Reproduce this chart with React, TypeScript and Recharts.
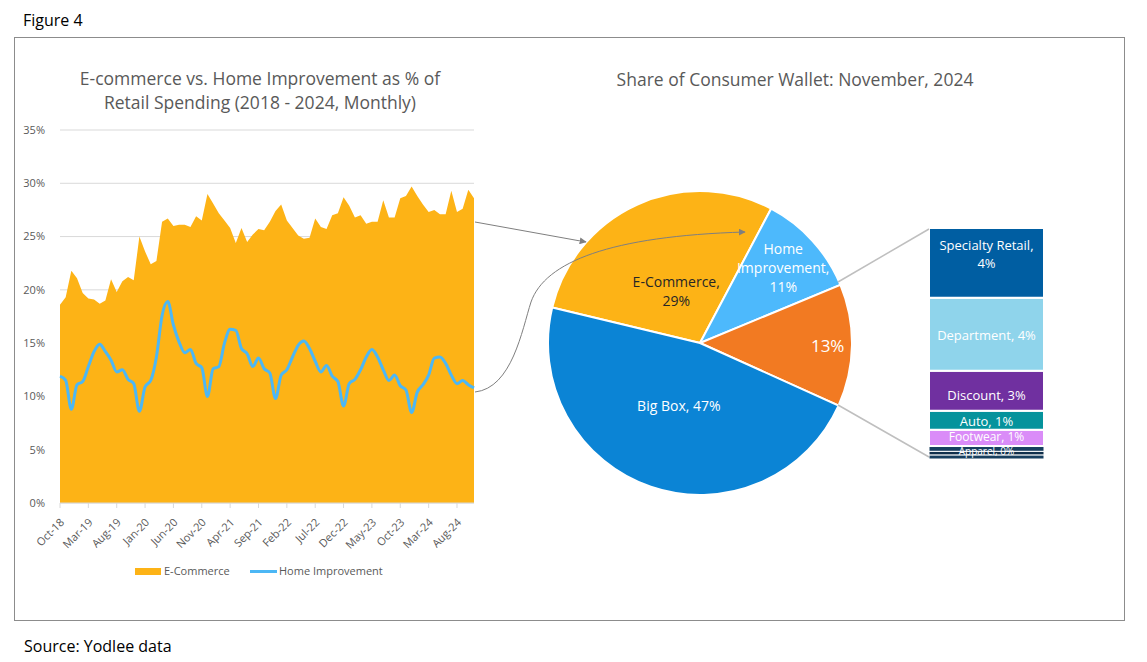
import React from "react";
import {
  ComposedChart,
  Area,
  Line,
  XAxis,
  YAxis,
  CartesianGrid,
  PieChart,
  Pie,
  Cell,
  BarChart,
  Bar,
  LabelList,
} from "recharts";

// ---------- data ----------
const months = [
  "Oct-18", "Nov-18", "Dec-18", "Jan-19", "Feb-19", "Mar-19", "Apr-19", "May-19", "Jun-19", "Jul-19",
  "Aug-19", "Sep-19", "Oct-19", "Nov-19", "Dec-19", "Jan-20", "Feb-20", "Mar-20", "Apr-20", "May-20",
  "Jun-20", "Jul-20", "Aug-20", "Sep-20", "Oct-20", "Nov-20", "Dec-20", "Jan-21", "Feb-21", "Mar-21",
  "Apr-21", "May-21", "Jun-21", "Jul-21", "Aug-21", "Sep-21", "Oct-21", "Nov-21", "Dec-21", "Jan-22",
  "Feb-22", "Mar-22", "Apr-22", "May-22", "Jun-22", "Jul-22", "Aug-22", "Sep-22", "Oct-22", "Nov-22",
  "Dec-22", "Jan-23", "Feb-23", "Mar-23", "Apr-23", "May-23", "Jun-23", "Jul-23", "Aug-23", "Sep-23",
  "Oct-23", "Nov-23", "Dec-23", "Jan-24", "Feb-24", "Mar-24", "Apr-24", "May-24", "Jun-24", "Jul-24",
  "Aug-24", "Sep-24", "Oct-24", "Nov-24",
];

const eCommerce = [
  18.6, 19.3, 21.8, 21.1, 19.7, 19.2, 19.1, 18.7, 19.0, 21.0,
  19.8, 20.8, 21.2, 20.9, 25.0, 23.6, 22.4, 22.7, 26.4, 26.7,
  26.0, 26.1, 26.1, 25.9, 26.9, 26.5, 29.0, 28.1, 27.2, 26.5,
  25.8, 24.4, 25.8, 24.5, 25.2, 25.7, 25.6, 26.4, 27.4, 28.0,
  26.5, 25.8, 25.1, 24.8, 24.9, 26.7, 25.9, 25.7, 27.0, 27.2,
  28.7, 27.9, 26.8, 27.0, 26.2, 26.4, 26.4, 28.4, 26.8, 26.8,
  28.6, 28.8, 29.7, 28.8, 28.0, 27.3, 27.5, 27.1, 27.1, 29.3,
  27.3, 27.6, 29.4, 28.6,
];

const homeImprovement = [
  11.9, 11.5, 8.8, 11.1, 11.4, 12.8, 14.2, 14.9, 14.2, 13.4,
  12.3, 12.5, 11.6, 11.2, 8.6, 10.9, 11.5, 13.7, 17.6, 18.9,
  16.7, 15.1, 14.1, 14.4, 13.1, 12.7, 10.0, 12.6, 12.8, 15.0,
  16.3, 16.2, 14.5, 14.0, 12.8, 13.6, 12.6, 12.2, 9.8, 12.0,
  12.5, 13.7, 14.8, 15.2, 14.5, 13.3, 12.3, 12.9, 11.9, 11.4,
  9.1, 11.2, 11.6, 12.5, 13.7, 14.4, 13.7, 12.5, 11.5, 12.0,
  11.0, 10.6, 8.5, 10.4, 11.1, 12.0, 13.6, 13.7, 13.1, 12.0,
  11.2, 11.5, 11.1, 10.8,
];

const yTicks = [0, 5, 10, 15, 20, 25, 30, 35];

const pieNames = ["E-Commerce", "Home Improvement", "Other", "Big Box"];
const pieValues = [29, 11, 13, 47];

const barNames = ["Specialty Retail", "Department", "Discount", "Auto", "Footwear", "Apparel", "Minor A", "Minor B"];
const barValues = [3.9, 4.07, 2.23, 1.07, 0.9, 0.3, 0.2, 0.23];
const barLabels = ["4%", "4%", "3%", "1%", "1%", "0%", "", ""];

// ---------- styles ----------
const FONT = "'Open Sans', 'Noto Sans', sans-serif";
const GREY_TEXT = "#595959";
const AREA_COLOR = "#FDB316";
const LINE_COLOR = "#4CB7F5";
const pieColors = ["#FDB316", "#4DB9FC", "#F27A22", "#0B84D5"];
const pieLabelColors = ["#262626", "#FFFFFF", "#FFFFFF", "#FFFFFF"];
const pieLabelRadius = [0.38, 0.74, 0.84, 0.43];
const barColors = ["#005EA2", "#8FD4EB", "#7030A0", "#05939C", "#DA8CF8", "#173F5F", "#10304C", "#173F5F"];
const barLabelSize = [13, 13, 13, 13, 12, 10, 10, 10];
const barLabelShift = [0, 1, 4, 1, -1, 2, 0, 0];

const lineData = months.map((m, i) => ({
  month: m,
  ecom: eCommerce[i],
  home: homeImprovement[i],
}));

const pieData = pieNames.map((n, i) => ({ name: n, value: pieValues[i] }));

const barRow: Record<string, number | string> = { cat: "Other" };
barNames.forEach((n, i) => {
  barRow[n] = barValues[i];
});
const barTotal = barValues.reduce((a, b) => a + b, 0);

const XTick = (props: any) => {
  const { x, y, payload } = props;
  return (
    <g transform={`translate(${x},${y})`}>
      <text
        transform="translate(5,13) rotate(-45)"
        textAnchor="end"
        fill={GREY_TEXT}
        fontSize={11}
        fontFamily={FONT}
      >
        {payload.value}
      </text>
    </g>
  );
};

const RAD = Math.PI / 180;

const renderPieLabel = (props: any) => {
  const { cx, cy, midAngle, outerRadius, index } = props;
  const r = outerRadius * pieLabelRadius[index];
  const x = cx + r * Math.cos(-midAngle * RAD);
  const y = cy + r * Math.sin(-midAngle * RAD);
  const name = pieNames[index];
  const val = `${pieValues[index]}%`;
  let lines: string[];
  let size = 14;
  if (index === 0) lines = [`${name},`, val];
  else if (index === 1) lines = ["Home", "Improvement,", val];
  else if (index === 2) {
    lines = [val];
    size = 17;
  } else lines = [`${name}, ${val}`];
  const lh = 19;
  const start = y - ((lines.length - 1) * lh) / 2;
  return (
    <text
      textAnchor="middle"
      dominantBaseline="central"
      fill={pieLabelColors[index]}
      fontSize={size}
      fontFamily={FONT}
    >
      {lines.map((l, k) => (
        <tspan key={k} x={x} y={start + k * lh}>
          {l}
        </tspan>
      ))}
    </text>
  );
};

const makeBarLabel = (idx: number) => (props: any) => {
  const { x, y, width, height } = props;
  if (!barLabels[idx]) return null;
  const cxp = Number(x) + Number(width) / 2;
  const cyp = Number(y) + Number(height) / 2;
  if (idx === 0) {
    return (
      <text textAnchor="middle" dominantBaseline="central" fill="#fff" fontSize={13} fontFamily={FONT}>
        <tspan x={cxp} y={cyp - 18}>{`${barNames[idx]},`}</tspan>
        <tspan x={cxp} y={cyp}>{barLabels[idx]}</tspan>
      </text>
    );
  }
  return (
    <text
      x={cxp}
      y={cyp + barLabelShift[idx]}
      textAnchor="middle"
      dominantBaseline="central"
      fill="#fff"
      fontSize={barLabelSize[idx]}
      fontFamily={FONT}
    >
      {`${barNames[idx]}, ${barLabels[idx]}`}
    </text>
  );
};

export default function App() {
  const stackOrder = barNames.map((_, i) => i).reverse();
  return (
    <div
      style={{
        position: "absolute",
        left: 0,
        top: 0,
        width: 1147,
        height: 662,
        background: "#fff",
        fontFamily: FONT,
        overflow: "hidden",
      }}
    >
      <div style={{ position: "absolute", left: 23, top: 9, fontSize: 16, color: "#000" }}>Figure 4</div>
      <div
        style={{
          position: "absolute",
          left: 14,
          top: 37,
          width: 1111,
          height: 584,
          border: "1px solid #8C8C8C",
          boxSizing: "border-box",
        }}
      />
      <div style={{ position: "absolute", left: 24, top: 635, fontSize: 16, color: "#000" }}>
        Source: Yodlee data
      </div>

      {/* left title */}
      <div
        style={{
          position: "absolute",
          left: 60,
          width: 400,
          top: 66,
          textAlign: "center",
          fontSize: 17.5,
          lineHeight: "24px",
          color: GREY_TEXT,
        }}
      >
        E-commerce vs. Home Improvement as % of
        <br />
        Retail Spending (2018 - 2024, Monthly)
      </div>

      {/* left chart */}
      <div style={{ position: "absolute", left: 0, top: 0 }}>
        <ComposedChart
          width={500}
          height={600}
          data={lineData}
          margin={{ top: 130, right: 26, left: 0, bottom: 37 }}
        >
          <CartesianGrid vertical={false} stroke="#D9D9D9" />
          <XAxis
            dataKey="month"
            scale="point"
            interval={4}
            height={60}
            tickSize={5}
            tick={<XTick />}
            stroke="#D9D9D9"
            tickLine={{ stroke: "#D9D9D9" }}
          />
          <YAxis
            domain={[0, 35]}
            ticks={yTicks}
            width={60}
            axisLine={false}
            tickLine={false}
            tickMargin={9}
            tickFormatter={(v: number) => `${v}%`}
            tick={{ fill: GREY_TEXT, fontSize: 11, fontFamily: FONT }}
          />
          <Area
            type="linear"
            dataKey="ecom"
            fill={AREA_COLOR}
            fillOpacity={1}
            stroke="none"
            isAnimationActive={false}
          />
          <Line
            type="monotone"
            dataKey="home"
            stroke={LINE_COLOR}
            strokeWidth={3}
            dot={false}
            isAnimationActive={false}
          />
        </ComposedChart>
      </div>

      {/* left legend */}
      <div style={{ position: "absolute", left: 135, top: 568, width: 26, height: 7, background: AREA_COLOR }} />
      <div style={{ position: "absolute", left: 164, top: 562, fontSize: 11, lineHeight: "18px", color: GREY_TEXT }}>
        E-Commerce
      </div>
      <div style={{ position: "absolute", left: 250, top: 570, width: 27, height: 3, background: LINE_COLOR }} />
      <div style={{ position: "absolute", left: 279, top: 562, fontSize: 11, lineHeight: "18px", color: GREY_TEXT }}>
        Home Improvement
      </div>

      {/* right title */}
      <div
        style={{
          position: "absolute",
          left: 595,
          width: 400,
          top: 67,
          textAlign: "center",
          fontSize: 17.5,
          lineHeight: "24px",
          color: GREY_TEXT,
        }}
      >
        Share of Consumer Wallet: November, 2024
      </div>

      {/* pie */}
      <div style={{ position: "absolute", left: 540, top: 183 }}>
        <PieChart width={320} height={320} margin={{ top: 0, right: 0, bottom: 0, left: 0 }}>
          <Pie
            data={pieData}
            dataKey="value"
            nameKey="name"
            cx={160}
            cy={160}
            outerRadius={152}
            startAngle={166.5}
            endAngle={166.5 - 360}
            stroke="#FFFFFF"
            strokeWidth={2}
            labelLine={false}
            label={renderPieLabel}
            isAnimationActive={false}
          >
            {pieData.map((d, i) => (
              <Cell key={d.name} fill={pieColors[i]} />
            ))}
          </Pie>
        </PieChart>
      </div>

      {/* stacked bar */}
      <div style={{ position: "absolute", left: 929, top: 228 }}>
        <BarChart
          width={115}
          height={231}
          data={[barRow]}
          margin={{ top: 0, right: 0, bottom: 0, left: 0 }}
          barCategoryGap={0}
        >
          <XAxis dataKey="cat" hide />
          <YAxis hide domain={[0, barTotal]} />
          {stackOrder.map((i) => (
            <Bar
              key={barNames[i]}
              dataKey={barNames[i]}
              stackId="s"
              fill={barColors[i]}
              stroke="#FFFFFF"
              strokeWidth={i >= 5 ? 1 : 2}
              isAnimationActive={false}
            >
              <LabelList dataKey={barNames[i]} content={makeBarLabel(i)} />
            </Bar>
          ))}
        </BarChart>
      </div>

      {/* annotations */}
      <svg
        width={1147}
        height={662}
        style={{ position: "absolute", left: 0, top: 0, pointerEvents: "none" }}
      >
        <defs>
          <marker id="arr" viewBox="0 0 10 10" refX="9" refY="5" markerWidth="7" markerHeight="7" orient="auto">
            <path d="M0,0 L10,5 L0,10 z" fill="#7F7F7F" />
          </marker>
        </defs>
        <line x1={838} y1={282} x2={929} y2={229} stroke="#BFBFBF" strokeWidth={1.5} />
        <line x1={838} y1={405} x2={929} y2={457} stroke="#BFBFBF" strokeWidth={1.5} />
        <line x1={475} y1={222} x2={586} y2={242} stroke="#7F7F7F" strokeWidth={1} markerEnd="url(#arr)" />
        <path
          d="M475,392 C512,388 522,330 531,302 C545,262 610,236 745,232"
          fill="none"
          stroke="#7F7F7F"
          strokeWidth={1}
          markerEnd="url(#arr)"
        />
      </svg>
    </div>
  );
}
